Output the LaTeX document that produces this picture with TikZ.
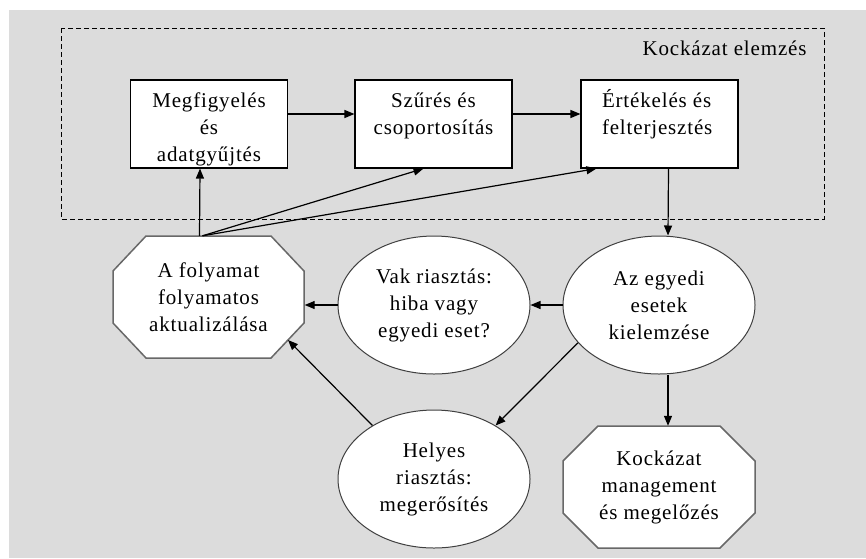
\documentclass[tikz,border=0pt]{standalone}
\usepackage{fontspec}
\setmainfont{Liberation Serif}[LetterSpace=4]
\usetikzlibrary{arrows.meta,shapes.geometric}
\definecolor{bggray}{HTML}{DCDCDC}
\definecolor{octgray}{HTML}{686868}
\definecolor{ellgray}{HTML}{404040}
\tikzset{
  every node/.style={font=\fontsize{21}{27}\selectfont},
  boxnode/.style={draw=black, line width=1.1pt, fill=white, inner sep=0pt},
  ellnode/.style={ellipse, draw=ellgray, line width=1pt, fill=white, inner sep=0pt,
                  minimum width=192pt, minimum height=138pt, align=center},
  octtext/.style={rectangle, inner sep=0pt, minimum width=192pt, minimum height=122pt, align=center},
  octline/.style={draw=octgray, line width=1.5pt, fill=white, line join=miter},
  arr/.style={draw=black, line width=1.2pt, -{Triangle[length=10pt,width=8pt]}},
}
\newcommand\boxtxt[2]{\begin{minipage}[c][88pt][t]{157pt}#1\rule{0pt}{27pt}#2\end{minipage}}
\begin{document}
\begin{tikzpicture}[x=1pt,y=-1pt]
\useasboundingbox (0,0) rectangle (866,558);
\fill[white] (0,0) rectangle (866,558);
\fill[bggray] (9,10) rectangle (866,558);
% dashed frame
\draw[black, line width=0.9pt, dash pattern=on 5pt off 3pt] (61,28) rectangle (824,219);
\node[anchor=base east] (title) at (810,55) {Kockázat elemzés};
% boxes
\node[boxnode] (b1) at (209,124) {\boxtxt{\centering}{Megfigyelés\\és\\adatgyűjtés}};
\node[boxnode] (b2) at (433.5,124) {\boxtxt{\centering}{Szűrés és\\csoportosítás}};
\node[boxnode] (b3) at (659.5,124) {\boxtxt{\raggedright\leftskip=21pt}{Értékelés és\\felterjesztés}};
% octagons
\draw[octline] (146,236) -- (271,236) -- (304,271) -- (304,323) -- (271,358) -- (146,358) -- (113,323) -- (113,271) -- cycle;
\node[octtext] (upd) at (208.5,297) {\rule{0pt}{8pt}\\[-19pt]A folyamat\\folyamatos\\aktualizálása};
\draw[octline] (598,426) -- (720,426) -- (755,461) -- (755,513) -- (720,548) -- (598,548) -- (563,513) -- (563,461) -- cycle;
\node[octtext] (km) at (659,487) {\rule{0pt}{8pt}\\[-19pt]Kockázat\\management\\és megelőzés};
% ellipses
\node[ellnode] (az) at (659,305) {Az egyedi\\esetek\\kielemzése};
\node[ellnode] (vak) at (434,305) {Vak riasztás:\\hiba vagy\\egyedi eset?};
\node[ellnode] (hel) at (434,479) {Helyes\\riasztás:\\megerősítés};
% connectors
\draw[arr] ([yshift=10pt]b1.east) -- ([yshift=10pt]b2.west);
\draw[arr] ([yshift=10pt]b2.east) -- ([yshift=10pt]b3.west);
\draw[arr] ([xshift=9pt]b3.south) -- ([xshift=9pt]az.north);
\draw[arr] ([xshift=9pt]az.south) -- ([xshift=9pt]km.north);
\draw[arr] (az.west) -- (vak.east);
\draw[arr] (vak.west) -- (vak.west -| upd.east);
\draw[arr] (az.205) -- (hel.41);
\draw[arr] (hel.139) -- ([xshift=79.5pt,yshift=-43pt]upd.center);
\draw[arr] ([xshift=-9pt]upd.north) -- ([xshift=-9pt]b1.south);
\draw[arr] ([xshift=-6pt]upd.north) -- ([xshift=-10pt]b2.south);
\draw[arr] ([xshift=-6pt]upd.north) -- ([xshift=16pt]b3.south west);
\end{tikzpicture}
\end{document}
